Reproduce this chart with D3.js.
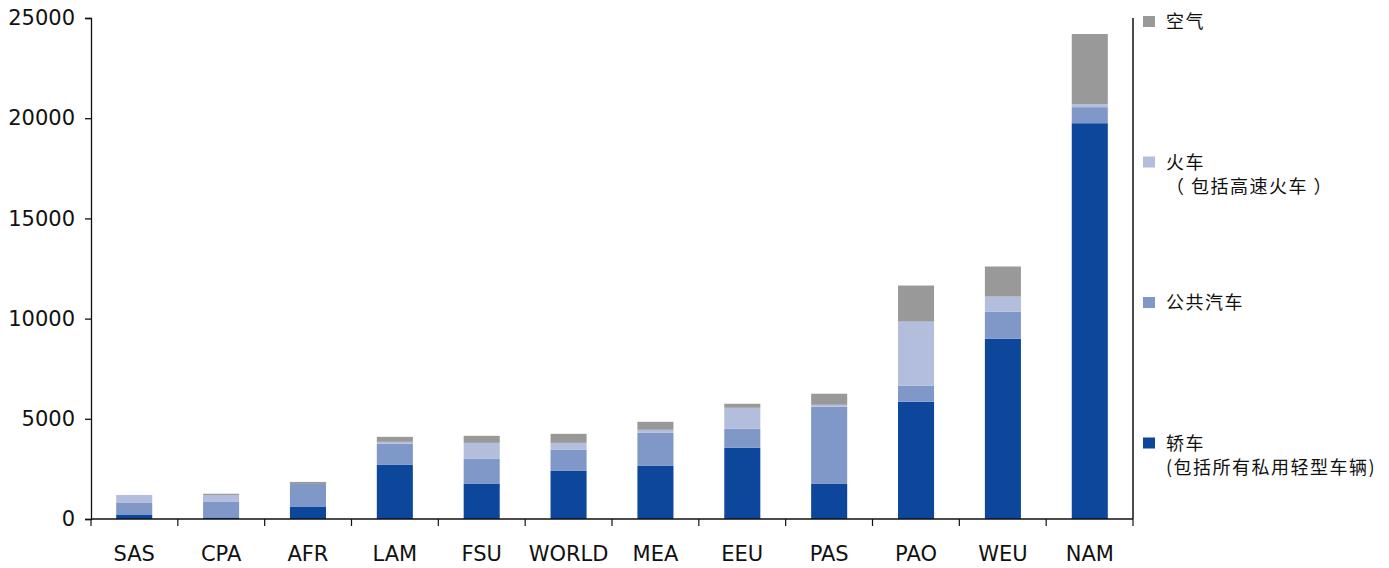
<!DOCTYPE html>
<html>
<head>
<meta charset="utf-8">
<script src="https://cdn.jsdelivr.net/npm/d3@7"></script>
<style>
  body { margin: 0; background: #fff; }
  svg text { fill: #111; }
</style>
</head>
<body>
<div id="chart"></div>
<script>
// regions, sorted by total
var regions = ["SAS", "CPA", "AFR", "LAM", "FSU", "WORLD", "MEA", "EEU", "PAS", "PAO", "WEU", "NAM"];

// stacked from bottom: cars, buses, rail, air
var cars  = [200, 80, 600, 2700, 1750, 2400, 2650, 3550, 1750, 5850, 9000, 19750];
var buses = [600, 770, 1150, 1050, 1250, 1050, 1650, 950, 3850, 800, 1350, 800];
var rail  = [400, 350, 0, 100, 800, 350, 150, 1050, 100, 3200, 750, 150];
var air   = [0, 60, 100, 250, 350, 450, 400, 200, 550, 1800, 1500, 3500];

var yTicks = [0, 5000, 10000, 15000, 20000, 25000];

var seriesKeys = ["cars", "buses", "rail", "air"];
var colors = { cars: "#0d479c", buses: "#8098c8", rail: "#b3bedd", air: "#999999" };

// legend, top to bottom
var legendItems = [
  { key: "air",   lines: ["空气"] },
  { key: "rail",  lines: ["火车", "（ 包括高速火车 ）"] },
  { key: "buses", lines: ["公共汽车"] },
  { key: "cars",  lines: ["轿车", "(包括所有私用轻型车辆)"] }
];

var W = 1389, H = 568;
var margin = { top: 18, right: 256, bottom: 49, left: 91 };
var width = W - margin.left - margin.right,
    height = H - margin.top - margin.bottom;

var rows = regions.map(function (r, i) {
  return { region: r, cars: cars[i], buses: buses[i], rail: rail[i], air: air[i] };
});

var svg = d3.select("#chart").append("svg")
  .attr("width", W).attr("height", H);

var g = svg.append("g")
  .attr("transform", "translate(" + margin.left + "," + margin.top + ")");

var x = d3.scaleBand().domain(regions).range([0, width]).paddingInner(0.585).paddingOuter(0.29);
var y = d3.scaleLinear().domain([0, 25000]).range([height, 0]);

var stacked = d3.stack().keys(seriesKeys)(rows);

g.append("g")
  .selectAll("g")
  .data(stacked)
  .enter()
  .append("g")
  .attr("fill", (d) => colors[d.key])
  .selectAll("rect")
  .data((d) => d)
  .enter()
  .append("rect")
  .attr("x", (d) => x(d.data.region))
  .attr("y", (d) => y(d[1]))
  .attr("height", (d) => y(d[0]) - y(d[1]))
  .attr("width", x.bandwidth());

// y axis
var yAxis = g.append("g")
  .call(d3.axisLeft(y).tickValues(yTicks).tickSize(6).tickPadding(10).tickFormat(d3.format("d")));
yAxis.selectAll("text")
  .style("font-family", "DejaVu Sans, sans-serif")
  .style("font-size", "21px")
  .attr("fill", "#111");
yAxis.selectAll("path, line").attr("stroke", "#111").attr("stroke-width", 1.3);

// x axis with ticks at category boundaries
var step = width / regions.length;
var xAxisG = g.append("g").attr("transform", "translate(0," + height + ")");
xAxisG.append("line")
  .attr("x1", 0).attr("x2", width)
  .attr("stroke", "#111").attr("stroke-width", 1.5);
xAxisG.selectAll("line.tick")
  .data(d3.range(regions.length + 1))
  .enter()
  .append("line")
  .attr("class", "tick")
  .attr("x1", (d) => d * step).attr("x2", (d) => d * step)
  .attr("y1", 0).attr("y2", 7)
  .attr("stroke", "#111").attr("stroke-width", 1.2);
xAxisG.selectAll("text")
  .data(regions)
  .enter()
  .append("text")
  .attr("x", (d) => x(d) + x.bandwidth() / 2)
  .attr("y", 42)
  .attr("text-anchor", "middle")
  .style("font-family", "DejaVu Sans, sans-serif")
  .style("font-size", "21px")
  .text((d) => d);

// right frame line
g.append("line")
  .attr("x1", width).attr("x2", width)
  .attr("y1", 0).attr("y2", height)
  .attr("stroke", "#111").attr("stroke-width", 1.5);

// legend
var legend = svg.append("g")
  .attr("transform", "translate(" + (margin.left + width + 10) + "," + 16 + ")");

var item = legend.selectAll("g")
  .data(legendItems)
  .enter()
  .append("g")
  .attr("transform", (d, i) => "translate(0," + i * 140.5 + ")");

item.append("rect")
  .attr("width", 12).attr("height", 11)
  .attr("fill", (d) => colors[d.key]);

item.each(function (d) {
  d3.select(this).selectAll("text")
    .data(d.lines)
    .enter()
    .append("text")
    .attr("x", 23)
    .attr("y", (t, j) => 12 + j * 24)
    .style("font-family", "'Noto Sans CJK SC', sans-serif")
    .style("font-size", "18px")
    .style("letter-spacing", "1.5px")
    .text((t) => t);
});
</script>
</body>
</html>
